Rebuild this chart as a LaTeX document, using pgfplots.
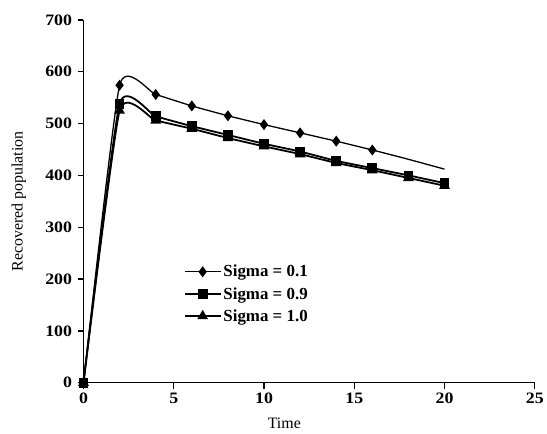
\documentclass[border=0pt]{standalone}
\usepackage{fontspec}
\setmainfont{Liberation Serif}
\newfontfamily\tickfont[FakeStretch=1.12]{Liberation Serif}
\usepackage{pgfplots}
\pgfplotsset{compat=1.18}

\begin{document}
\begin{tikzpicture}
\begin{axis}[
  scale only axis,
  width=454pt, height=365pt,
  xmin=0, xmax=25, ymin=0, ymax=700,
  xtick={0,5,...,25}, ytick={0,100,...,700},
  axis lines=left, axis line style={-, line width=1.3pt},
  tick align=outside, major tick length=6pt,
  tick style={line width=1.3pt, black},
  ticklabel style={font=\tickfont\fontsize{16}{18}\selectfont\bfseries},
  /pgf/number format/assume math mode=true,
  xticklabel style={yshift=-1pt},
  yticklabel style={xshift=-2pt},
  xlabel={Time}, ylabel={Recovered population},
  every axis x label/.style={at={(rel axis cs:0.445,0)}, yshift=-41pt, anchor=center,
    font=\fontsize{16}{18}\selectfont},
  every axis y label/.style={at={(rel axis cs:0,0.5)}, xshift=-65pt, rotate=90, anchor=center,
    font=\fontsize{16}{18}\selectfont},
  legend style={draw=none, fill=none, at={(0.222,0.33)}, anchor=north west,
    inner sep=0pt, font=\fontsize{17}{19}\selectfont\bfseries, row sep=5pt,
    /tikz/every even column/.append style={column sep=15pt}},
  legend image code/.code={
    \draw[#1, mark=none] (0pt,0pt) -- (36pt,0pt);
    \draw[#1, only marks] plot coordinates {(18pt,0pt)};},
  smooth, tension=0.3,
  clip=false,
]
\addplot[black, line width=1.3pt, mark=diamond*, mark size=4.5pt,
  mark indices={1,2,3,4,5,6,7,8,9}]
  coordinates {(0,0)(2,574)(4,556)(6,534)(8,515)(10,498)(12,482)(14,466)(16,449)(18,431)(20,412)};
\addlegendentry{Sigma = 0.1}
\addplot[black, line width=1.8pt, mark=square*, mark size=4pt]
  coordinates {(0,0)(2,538)(4,514)(6,495)(8,478)(10,461)(12,446)(14,428)(16,414)(18,400)(20,385)};
\addlegendentry{Sigma = 0.9}
\addplot[black, line width=1.8pt, mark=triangle*, mark size=4.5pt]
  coordinates {(0,0)(2,525)(4,506)(6,490)(8,472)(10,456)(12,441)(14,424)(16,410)(18,395)(20,380)};
\addlegendentry{Sigma = 1.0}
\path (rel axis cs:0,0) ++(-84pt,-51pt) (rel axis cs:1,1) ++(9pt,20pt);
\end{axis}
\end{tikzpicture}
\end{document}
